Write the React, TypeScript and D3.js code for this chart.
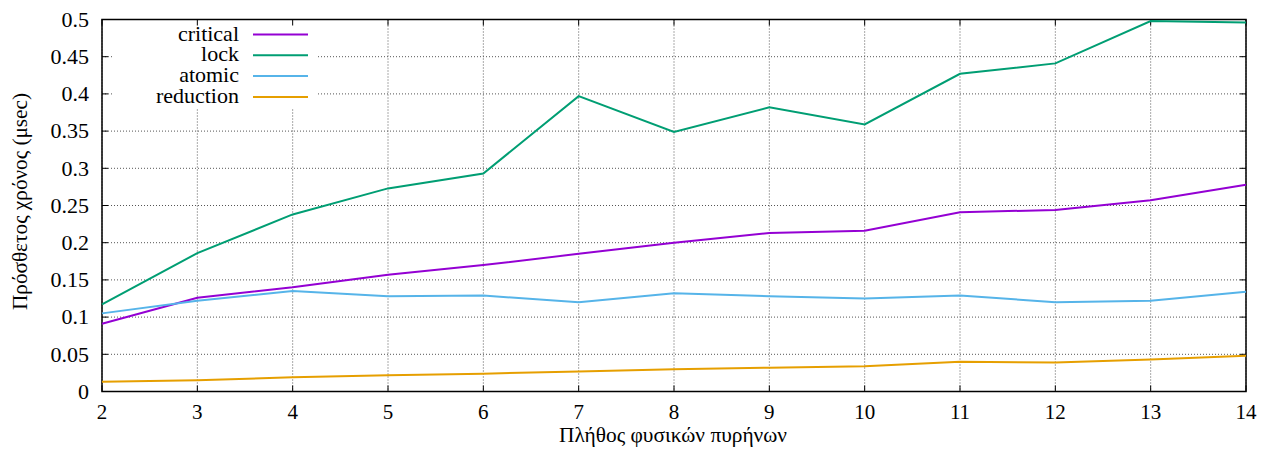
import * as d3 from 'd3'

// cores (threads) on the x axis
const cores = [2, 3, 4, 5, 6, 7, 8, 9, 10, 11, 12, 13, 14]

// overhead in microseconds
const critical = [0.091, 0.126, 0.140, 0.157, 0.170, 0.185, 0.200, 0.213, 0.216, 0.241, 0.244, 0.257, 0.278]
const lock = [0.117, 0.186, 0.238, 0.273, 0.293, 0.397, 0.349, 0.382, 0.359, 0.427, 0.441, 0.498, 0.496]
const atomic = [0.105, 0.122, 0.135, 0.128, 0.129, 0.120, 0.132, 0.128, 0.125, 0.129, 0.120, 0.122, 0.134]
const reduction = [0.013, 0.015, 0.019, 0.022, 0.024, 0.027, 0.030, 0.032, 0.034, 0.040, 0.039, 0.043, 0.048]

const seriesNames = ['critical', 'lock', 'atomic', 'reduction']
const seriesColors = ['#9400d3', '#009e73', '#56b4e9', '#e69f00']
const yTicks = [0, 0.05, 0.1, 0.15, 0.2, 0.25, 0.3, 0.35, 0.4, 0.45, 0.5]

const serif = { fontFamily: '"Liberation Serif"' }

const W = 1266
const H = 456
const m = { left: 102, right: 1246, top: 19.5, bottom: 391.5 }

const x = d3.scaleLinear().domain([2, 14]).range([m.left, m.right])
const y = d3.scaleLinear().domain([0, 0.5]).range([m.bottom, m.top])

const line = d3.line<number>()
    .x((d, i) => x(cores[i]))
    .y(d => y(d))

const App = () => {
    const allSeries = [critical, lock, atomic, reduction]
    const tick = 6
    const dotted = { stroke: '#555', strokeWidth: 1, strokeDasharray: '1,2' }

    return (
        <svg width={W} height={H} style={{ position: 'absolute', left: 0, top: 0, background: 'white' }}>
            {/* grid */}
            {cores.map(c => (
                <line key={'vg' + c} x1={x(c)} x2={x(c)} y1={m.top} y2={m.bottom} style={dotted} />
            ))}
            {yTicks.map(t => (
                <line key={'hg' + t} x1={m.left} x2={m.right} y1={y(t)} y2={y(t)} style={dotted} />
            ))}

            {/* legend box covers the grid */}
            <rect x={113} y={m.top} width={205} height={89} fill="white" />

            {/* ticks inside on all sides, labels on bottom and left */}
            {cores.map(c => (
                <g key={'xt' + c}>
                    <line x1={x(c)} x2={x(c)} y1={m.bottom} y2={m.bottom - tick} stroke="black" />
                    <line x1={x(c)} x2={x(c)} y1={m.top} y2={m.top + tick} stroke="black" />
                    <text x={x(c)} y={419} textAnchor="middle" fontSize={21} style={serif}>{c}</text>
                </g>
            ))}
            {yTicks.map(t => (
                <g key={'yt' + t}>
                    <line x1={m.left} x2={m.left + tick} y1={y(t)} y2={y(t)} stroke="black" />
                    <line x1={m.right} x2={m.right - tick} y1={y(t)} y2={y(t)} stroke="black" />
                    <text x={89} y={y(t)} dy="0.33em" textAnchor="end" fontSize={22} style={serif}>
                        {d3.format('')(t)}
                    </text>
                </g>
            ))}

            {/* frame */}
            <rect x={m.left} y={m.top} width={m.right - m.left} height={m.bottom - m.top}
                fill="none" stroke="black" strokeWidth={1.5} />

            {/* series */}
            {allSeries.map((s, i) => (
                <path key={seriesNames[i]} d={line(s) ?? ''} fill="none" stroke={seriesColors[i]} strokeWidth={2} />
            ))}

            {/* legend */}
            {seriesNames.map((name, i) => {
                const ly = 34.5 + i * 20.8
                return (
                    <g key={'lg' + name}>
                        <text x={239} y={ly + 6} textAnchor="end" fontSize={22} style={serif}>{name}</text>
                        <line x1={253} x2={308} y1={ly} y2={ly} stroke={seriesColors[i]} strokeWidth={2} />
                    </g>
                )
            })}

            {/* axis titles */}
            <text transform="translate(27, 201.5) rotate(-90)" textAnchor="middle" fontSize={22}
                textLength={217} lengthAdjust="spacingAndGlyphs" style={serif}>
                Πρόσθετος χρόνος (μsec)
            </text>
            <text x={673} y={442} textAnchor="middle" fontSize={22}
                textLength={228} lengthAdjust="spacingAndGlyphs" style={serif}>
                Πλήθος φυσικών πυρήνων
            </text>
        </svg>
    )
}

export default App
